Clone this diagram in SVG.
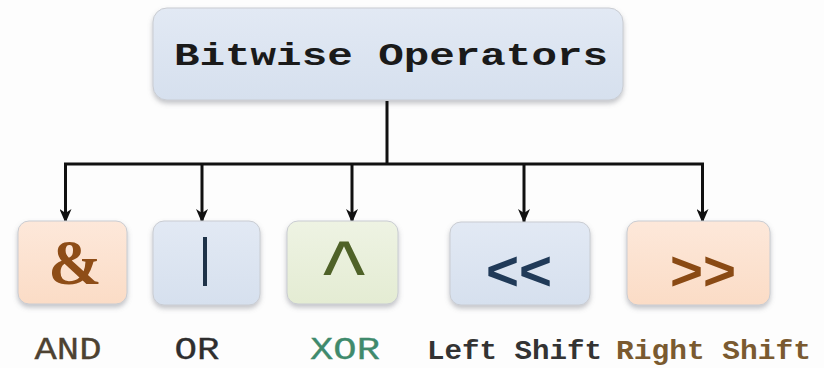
<svg xmlns="http://www.w3.org/2000/svg" width="824" height="368" viewBox="0 0 824 368">
  <style>
    .box { stroke: #c9ccd2; stroke-width: 1; filter: url(#shadow); }
    .blue { fill: url(#gBlue); }
    .peach { fill: url(#gPeach); }
    .green { fill: url(#gGreen); }
    .mono { font-family: "Liberation Mono", "DejaVu Sans Mono", monospace; }
    .label { font-size: 31px; text-anchor: middle; stroke-width: 0.3; }
    .sym { font-family: "Liberation Sans", "DejaVu Sans", sans-serif; font-weight: bold; text-anchor: middle; }
    .wire { fill: none; stroke: #111; stroke-width: 3; }
    .drop { fill: none; stroke: #111; stroke-width: 3; marker-end: url(#arrow); }
  </style>
  <defs>
    <linearGradient id="gBlue" x1="0" y1="0" x2="0" y2="1">
      <stop offset="0" stop-color="#e2e9f4"/>
      <stop offset="1" stop-color="#d6e0ee"/>
    </linearGradient>
    <linearGradient id="gPeach" x1="0" y1="0" x2="0" y2="1">
      <stop offset="0" stop-color="#fde8da"/>
      <stop offset="1" stop-color="#fbdcc6"/>
    </linearGradient>
    <linearGradient id="gGreen" x1="0" y1="0" x2="0" y2="1">
      <stop offset="0" stop-color="#eef3e3"/>
      <stop offset="1" stop-color="#e4ecd3"/>
    </linearGradient>
    <filter id="shadow" x="-10%" y="-10%" width="120%" height="130%">
      <feDropShadow dx="0" dy="3" stdDeviation="2.5" flood-color="#7a7f88" flood-opacity="0.45"/>
    </filter>
    <marker id="arrow" viewBox="0 0 14 12" refX="13" refY="6" markerWidth="14" markerHeight="12" markerUnits="userSpaceOnUse" orient="auto">
      <path d="M0,0 L14,6 L0,12 L4,6 Z" fill="#111"/>
    </marker>
  </defs>

  <rect width="824" height="368" fill="#fdfdfd"/>

  <!-- root -->
  <g id="root">
    <rect class="box blue" x="153" y="8" width="470" height="92" rx="14"/>
    <text class="mono" x="174" y="65" font-size="31" font-weight="bold" fill="#1a1a1a" textLength="434" lengthAdjust="spacingAndGlyphs">Bitwise Operators</text>
  </g>

  <!-- tree connectors -->
  <g id="connectors">
    <path class="wire" d="M387,101 V164 M64,164 H704"/>
    <path class="drop" d="M65.5,163 V222"/>
    <path class="drop" d="M202,163 V222"/>
    <path class="drop" d="M352,163 V222"/>
    <path class="drop" d="M524,163 V222"/>
    <path class="drop" d="M702.5,163 V222"/>
  </g>

  <g id="and">
    <rect class="box peach" x="18" y="221" width="109" height="83" rx="11"/>
    <text x="75" y="284" font-family="Liberation Serif, DejaVu Serif, serif" font-weight="bold" font-size="64" text-anchor="middle" fill="#8e4d17">&amp;</text>
    <text class="mono label" x="68" y="359" fill="#4d4232" stroke="#4d4232" textLength="67" lengthAdjust="spacingAndGlyphs">AND</text>
  </g>

  <g id="or">
    <rect class="box blue" x="153" y="221" width="107" height="84" rx="11"/>
    <rect x="203" y="237" width="4" height="49" fill="#1e3248"/>
    <text class="mono label" x="197" y="359" fill="#2e2e2e" stroke="#2e2e2e" textLength="45" lengthAdjust="spacingAndGlyphs">OR</text>
  </g>

  <g id="xor">
    <rect class="box green" x="287" y="221" width="111" height="83" rx="11"/>
    <text x="0" y="0" font-family="Liberation Sans, DejaVu Sans, sans-serif" text-anchor="middle" font-size="60" fill="#4f6228" transform="translate(344,306) scale(1.5,1.54)">^</text>
    <text class="mono label" x="345" y="359" fill="#3f8a6c" stroke="#3f8a6c" textLength="70" lengthAdjust="spacingAndGlyphs">XOR</text>
  </g>

  <g id="lshift">
    <rect class="box blue" x="450" y="222" width="140" height="83" rx="11"/>
    <text class="sym" x="519" y="290" font-size="56" fill="#203a58" textLength="66" lengthAdjust="spacingAndGlyphs">&lt;&lt;</text>
    <text class="mono" x="427" y="359" font-size="28" font-weight="bold" fill="#333" textLength="175" lengthAdjust="spacingAndGlyphs">Left Shift</text>
  </g>

  <g id="rshift">
    <rect class="box peach" x="627" y="221" width="143" height="84" rx="11"/>
    <text class="sym" x="703" y="290" font-size="56" fill="#8a4a14" textLength="66" lengthAdjust="spacingAndGlyphs">&gt;&gt;</text>
    <text class="mono" x="616" y="359" font-size="28" font-weight="bold" fill="#7a5a30" textLength="195" lengthAdjust="spacingAndGlyphs">Right Shift</text>
  </g>
</svg>
